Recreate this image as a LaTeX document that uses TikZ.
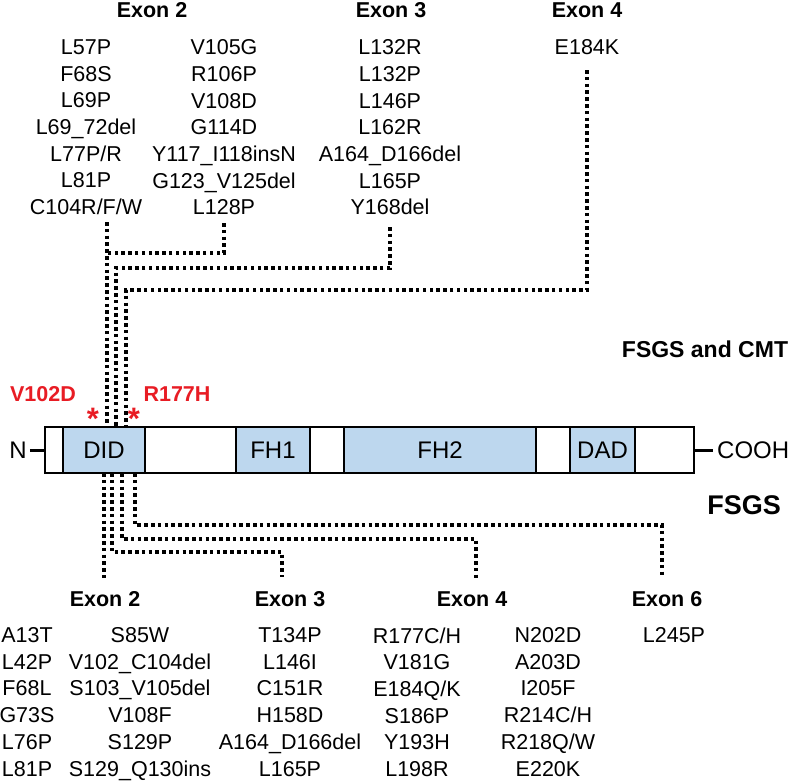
\documentclass[tikz,border=0pt]{standalone}
\usepackage{fontspec}
\setmainfont{Liberation Sans}
\usetikzlibrary{positioning}
\definecolor{domblue}{RGB}{189,215,238}
\definecolor{mutred}{RGB}{232,28,36}
\begin{document}
\begin{tikzpicture}[x=1pt, y=-1pt,
    seg node/.style={draw, line width=2.8pt, minimum height=46pt, inner sep=0pt, outer sep=0pt, font=\fontsize{24}{28}\selectfont},
    dom node/.style={seg node, fill=domblue},
    list node/.style={align=center, inner sep=0pt, anchor=north},
    exon node/.style={font=\fontsize{21.5}{26}\selectfont\bfseries},
    star node/.style={text=mutred, anchor=north, inner sep=0pt, font=\fontsize{31}{31}\selectfont\bfseries},
    dots/.style={line width=3.5pt, dash pattern=on 3.5pt off 3.3pt}]
  \tikzstyle{every node}=[font=\fontsize{21.5}{26.7}\selectfont]
  \useasboundingbox (0,0) rectangle (802,780);

  \node[seg node, minimum width=18pt] (1) at (54,450) {};
  \node[dom node, minimum width=82pt] (did) [right=0pt of 1] {DID};
  \node[seg node, minimum width=91pt] (2) [right=0pt of did] {};
  \node[dom node, minimum width=74pt] (fh1) [right=0pt of 2] {FH1};
  \node[seg node, minimum width=34pt] (3) [right=0pt of fh1] {};
  \node[dom node, minimum width=192pt] (fh2) [right=0pt of 3] {FH2};
  \node[seg node, minimum width=34pt] (4) [right=0pt of fh2] {};
  \node[dom node, minimum width=65pt] (dad) [right=0pt of 4] {DAD};
  \node[seg node, minimum width=59pt] (5) [right=0pt of dad] {};

  \node[inner sep=3pt, font=\fontsize{24}{28}\selectfont] (nterm) at (18,450) {N};
  \node[inner sep=4pt, anchor=west, font=\fontsize{24}{28}\selectfont] (cooh) at (713,450) {COOH};
  \draw[line width=3pt] (nterm.east) -- (1.west);
  \draw[line width=3pt] (5.east) -- (cooh.west);

  \node[exon node] (e2) at (152,10) {Exon 2};
  \node[exon node] (e3) at (391,10) {Exon 3};
  \node[exon node] (e4) at (587,10) {Exon 4};
  \node[list node] (t1) at (86,39.5) {L57P\\F68S\\L69P\\L69\_72del\\L77P/R\\L81P\\C104R/F/W};
  \node[list node] (t2) at (224,39.5) {V105G\\R106P\\V108D\\G114D\\Y117\_I118insN\\G123\_V125del\\L128P};
  \node[list node] (t3) at (390,39.5) {L132R\\L132P\\L146P\\L162R\\A164\_D166del\\L165P\\Y168del};
  \node[list node] (t4) at (587,39.5) {E184K};

  \node[font=\fontsize{23}{28}\selectfont\bfseries] (cmt) at (705,349) {FSGS and CMT};
  \node[font=\fontsize{21.5}{26}\selectfont\bfseries, text=mutred] (v102) at (43,394) {V102D};
  \node[font=\fontsize{21.5}{26}\selectfont\bfseries, text=mutred] (r177) at (177,394) {R177H};
  \node[star node] (s1) at (93,408) {*};
  \node[star node] (s2) at (134,408) {*};

  \coordinate (p1) at (107,222);
  \coordinate (p2) at (224,223);
  \coordinate (p3) at (390,227);
  \coordinate (p4) at (587,70);
  \coordinate (j3) at (116,268);
  \coordinate (j4) at (126,290);
  \draw[dots] (p1) -- (p1 |- did.north);
  \draw[dots] (p2) |- (p1 |- 0,253);
  \draw[dots] (p3) |- (j3) -- (j3 |- did.north);
  \draw[dots] (p4) |- (j4) -- (j4 |- did.north);

  \node[font=\fontsize{27}{32}\selectfont\bfseries] (fsgs) at (744,505) {FSGS};

  \coordinate (k2) at (104,578);
  \coordinate (k3) at (282,577);
  \coordinate (k4) at (476,578);
  \coordinate (k6) at (662,578);
  \draw[dots] (did.south -| k2) -- (k2);
  \draw[dots] (did.south -| 112,0) -- (112,552) -| (k3);
  \draw[dots] (did.south -| 122,0) -- (122,539) -| (k4);
  \draw[dots] (did.south -| 135,0) -- (135,525) -| (k6);

  \node[exon node] (f2) at (105,599) {Exon 2};
  \node[exon node] (f3) at (290,599) {Exon 3};
  \node[exon node] (f4) at (472,599) {Exon 4};
  \node[exon node] (f6) at (667,599) {Exon 6};
  \node[list node] (b1) at (27,627.3) {A13T\\L42P\\F68L\\G73S\\L76P\\L81P};
  \node[list node] (b2) at (140,627.3) {S85W\\V102\_C104del\\S103\_V105del\\V108F\\S129P\\S129\_Q130ins};
  \node[list node] (b3) at (290,627.3) {T134P\\L146I\\C151R\\H158D\\A164\_D166del\\L165P};
  \node[list node] (b4) at (417,627.3) {R177C/H\\V181G\\E184Q/K\\S186P\\Y193H\\L198R};
  \node[list node] (b5) at (548,627.3) {N202D\\A203D\\I205F\\R214C/H\\R218Q/W\\E220K};
  \node[list node] (b6) at (674,627.3) {L245P};
\end{tikzpicture}
\end{document}
